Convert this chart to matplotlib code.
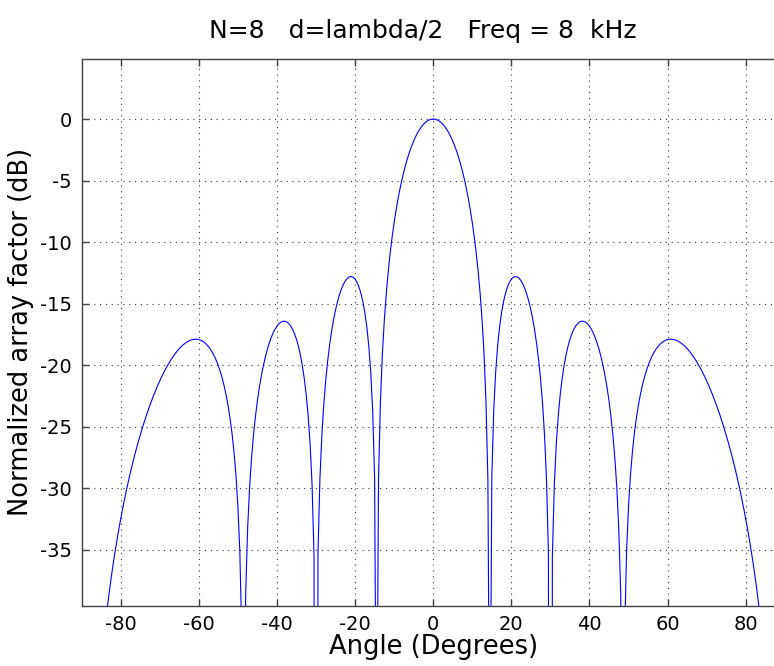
import numpy as np
import matplotlib
matplotlib.use("Agg")
import matplotlib.pyplot as plt

# Uniform linear array parameters
N_ELEMENTS = 8
SPACING_WAVELENGTHS = 0.5      # d = lambda/2
FREQ_KHZ = 8

angle_deg = np.linspace(-90, 90, 361)
x_ticks = [-80, -60, -40, -20, 0, 20, 40, 60, 80]
y_ticks = [-35, -30, -25, -20, -15, -10, -5, 0]

# Normalized array factor in dB
psi = 2 * np.pi * SPACING_WAVELENGTHS * np.sin(np.deg2rad(angle_deg))
with np.errstate(divide="ignore", invalid="ignore"):
    af = np.sin(N_ELEMENTS * psi / 2) / (N_ELEMENTS * np.sin(psi / 2))
af = np.where(np.abs(psi) < 1e-12, 1.0, af)
af_db = 20 * np.log10(np.maximum(np.abs(af), 1e-15))

plt.rcParams["font.family"] = ["DejaVu Sans"]
plt.rcParams["lines.scale_dashes"] = False
plt.rcParams["axes.unicode_minus"] = False

W, H = 774, 666
fig = plt.figure(figsize=(W / 100, H / 100), dpi=100)
ax = fig.add_axes([81.6 / W, 60.3 / H, (784.8 - 81.6) / W, (605.7 - 59.0) / H])

ax.plot(angle_deg, af_db, color=(0, 0, 1), lw=0.8)

ax.set_xlim(-90, 90)
ax.set_ylim(-39.55, 4.88)
ax.set_xticks(x_ticks)
ax.set_yticks(y_ticks)
ax.tick_params(direction="in", length=5, width=1, top=True, right=True,
               labelsize=14, pad=7, color="0.25")
ax.grid(True, color="0.2", lw=0.8, linestyle=(0, (0.8, 3.4)))
for s in ax.spines.values():
    s.set_linewidth(1.0)
    s.set_color("0.25")

ax.set_xlabel("Angle (Degrees)", fontsize=18.5, labelpad=0)
ax.set_ylabel("Normalized array factor (dB)", fontsize=18.5, labelpad=4)
ax.set_title(f"N={N_ELEMENTS}   d=lambda/2   Freq = {FREQ_KHZ}  kHz",
             fontsize=18, x=0.4855, pad=15)

fig.savefig("out.png", dpi=100)
